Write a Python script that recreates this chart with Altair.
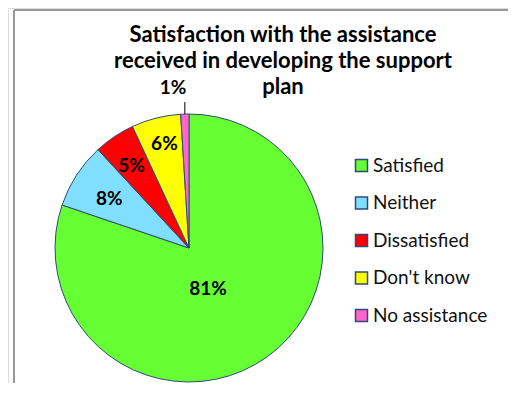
import altair as alt
import pandas as pd

categories = ["Satisfied", "Neither", "Dissatisfied", "Don't know", "No assistance"]
values = [81, 8, 5, 6, 1]
colors = ["#66FF33", "#80DFFF", "#FF0000", "#FFFF00", "#FF66CC"]
title_lines = ["Satisfaction with the assistance",
               "received in developing the support",
               "plan"]

df = pd.DataFrame({
    "category": categories,
    "value": values,
    "idx": list(range(len(categories))),
    "label": [f"{v}%" for v in values],
})

FONT = "Lato"
CX, CY, R = 181, 240, 134

base = alt.Chart(df).encode(
    theta=alt.Theta("value:Q", stack=True),
    order=alt.Order("idx:Q", sort="ascending"),
)

arcs = base.mark_arc(outerRadius=R, stroke="#2E4A7A", strokeWidth=1).encode(
    x=alt.value(CX), y=alt.value(CY),
    color=alt.Color(
        "category:N",
        scale=alt.Scale(domain=categories, range=colors),
        sort=categories,
        legend=alt.Legend(
            title=None, orient="none", legendX=344, legendY=148,
            symbolType="square", symbolSize=144, symbolStrokeColor="#2E4A7A",
            symbolStrokeWidth=1.5, symbolOpacity=1, labelFont=FONT,
            labelFontSize=19, labelColor="#111111", labelOffset=2,
            rowPadding=17.5, padding=0,
        ),
    ),
)

def text_layer(cond, radius, dx=0, dy=0):
    return base.transform_calculate(
        t=f"({cond}) ? datum.label : ''"
    ).mark_text(
        radius=radius, font=FONT, fontSize=19, fontWeight="bold",
        color="black", dx=dx, dy=dy,
    ).encode(x=alt.value(CX), y=alt.value(CY), text="t:N")

big = text_layer("datum.value > 50", 50, dx=-10)
lab_neither = text_layer("datum.category == 'Neither'", 95, dy=3)
lab_dis = text_layer("datum.category == 'Dissatisfied'", 103, dy=4)
lab_dk = text_layer("datum.category == \"Don't know\"", 108, dx=2, dy=1)
small = text_layer("datum.value < 2", 161, dx=-11, dy=1)

leader = alt.Chart(df).transform_joinaggregate(
    total="sum(value)"
).transform_window(
    cum="sum(value)", sort=[alt.SortField("idx", order="ascending")]
).transform_filter(
    "datum.value < 2"
).transform_calculate(
    a="(datum.cum - datum.value / 2) / datum.total * 2 * PI",
).transform_calculate(
    x1=f"{CX} + {R} * sin(datum.a)",
    y1=f"{CY} - {R} * cos(datum.a)",
    y2=f"{CY} - {R + 12} * cos(datum.a)",
).mark_rule(color="black", strokeWidth=1).encode(
    x=alt.X("x1:Q", scale=None),
    y=alt.Y("y1:Q", scale=None),
    y2=alt.Y2("y2:Q"),
)

frame_left = alt.Chart(df).mark_rule(color="#999999", strokeWidth=2).encode(
    x=alt.value(6), y=alt.value(2), y2=alt.value(400)
)
frame_top = alt.Chart(df).mark_rule(color="#999999", strokeWidth=2).encode(
    x=alt.value(6), x2=alt.value(520), y=alt.value(2)
)

chart = alt.layer(frame_left, frame_top, arcs, big, lab_neither, lab_dis, lab_dk,
                  small, leader).properties(
    width=500, height=375,
    autosize=alt.AutoSizeParams(type="none"),
    padding=0,
    title=alt.Title(
        text=title_lines, font=FONT, fontSize=22, fontWeight="bold",
        color="black", anchor="middle", dx=25, offset=-108,
        baseline="alphabetic", lineHeight=26,
    ),
).configure_view(stroke=None).configure(background="white")

chart.save("out.html", embed_options={"renderer": "svg", "actions": False})
